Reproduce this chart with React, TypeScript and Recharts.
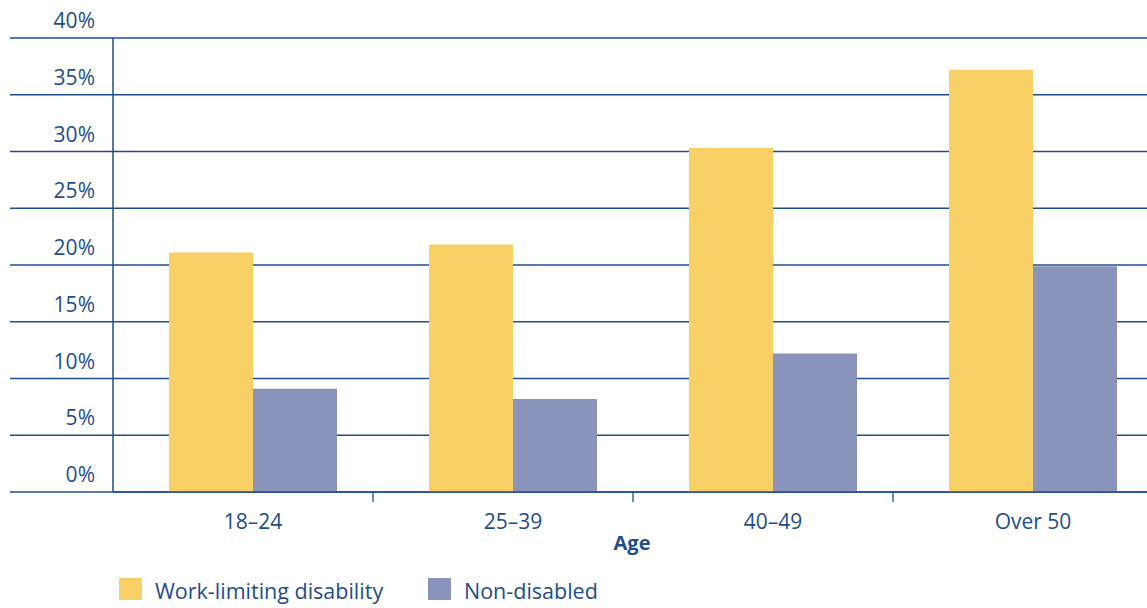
import { BarChart, Bar, XAxis, YAxis, CartesianGrid } from 'recharts'

const ageGroups = ['18–24', '25–39', '40–49', 'Over 50']
const workLimiting = [21.1, 21.8, 30.3, 37.2]
const nonDisabled = [9.1, 8.2, 12.2, 19.9]
const yTicks = [0, 5, 10, 15, 20, 25, 30, 35, 40]

const NAVY = '#1f4e8c'
const YELLOW = '#f8d066'
const BLUE = '#8a93bb'
const FONT = '"Open Sans", "Noto Sans", sans-serif'

const data = ageGroups.map((age, i) => ({
  age,
  'Work-limiting disability': workLimiting[i],
  'Non-disabled': nonDisabled[i],
}))

function YTick(props: any) {
  const { x, y, payload } = props
  return (
    <g>
      <line x1={10} x2={x + 8} y1={y} y2={y} stroke={NAVY} strokeWidth={1.3} />
      <text x={95} y={y - 10} textAnchor="end" fill={NAVY} fontSize={21} fontFamily={FONT}>
        {payload.value}%
      </text>
    </g>
  )
}

function XTick(props: any) {
  const { x, y, payload, index } = props
  return (
    <g>
      {index > 0 && <line x1={x - 140} x2={x - 140} y1={y - 8} y2={y + 2} stroke={NAVY} strokeWidth={1.3} />}
      <text x={x} y={y + 29} textAnchor="middle" fill={NAVY} fontSize={21} fontFamily={FONT}>
        {payload.value}
      </text>
    </g>
  )
}

function LegendBox() {
  const items = [
    { name: 'Work-limiting disability', color: YELLOW, left: 119 },
    { name: 'Non-disabled', color: BLUE, left: 428 },
  ]
  return (
    <div style={{ position: 'absolute', left: 0, top: 578, width: 1147, height: 30 }}>
      {items.map((it) => (
        <div key={it.name} style={{ position: 'absolute', left: it.left, top: 0, height: 22, display: 'flex', alignItems: 'center' }}>
          <span style={{ width: 23, height: 22, background: it.color, display: 'inline-block' }} />
          <span style={{ marginLeft: 13, color: NAVY, fontSize: 21.5, fontFamily: FONT, lineHeight: '22px', position: 'relative', top: 2 }}>{it.name}</span>
        </div>
      ))}
    </div>
  )
}

export default function App() {
  return (
    <div style={{ position: 'absolute', left: 0, top: 0, width: 1147, height: 608, overflow: 'hidden', background: '#fff' }}>
      <BarChart
        width={1170}
        height={608}
        data={data}
        margin={{ top: 38, right: 7, left: 0, bottom: 56 }}
        barCategoryGap={46}
        barGap={0}
      >
        <CartesianGrid vertical={false} stroke={NAVY} strokeWidth={1.3} />
        <XAxis
          dataKey="age"
          padding={{ left: 10, right: 0 }}
          axisLine={{ stroke: NAVY, strokeWidth: 1.5 }}
          tickLine={false}
          tick={<XTick />}
          interval={0}
          height={60}
        />
        <YAxis
          domain={[0, 40]}
          ticks={yTicks}
          width={113}
          axisLine={{ stroke: NAVY, strokeWidth: 1.5 }}
          tickLine={false}
          tick={<YTick />}
          interval={0}
        />
        <Bar dataKey="Work-limiting disability" fill={YELLOW} isAnimationActive={false} />
        <Bar dataKey="Non-disabled" fill={BLUE} isAnimationActive={false} />
      </BarChart>
      <div
        style={{
          position: 'absolute',
          left: 0,
          width: 1264,
          top: 529,
          textAlign: 'center',
          color: NAVY,
          fontSize: 20,
          fontWeight: 700,
          fontFamily: FONT,
        }}
      >
        Age
      </div>
      <LegendBox />
    </div>
  )
}
